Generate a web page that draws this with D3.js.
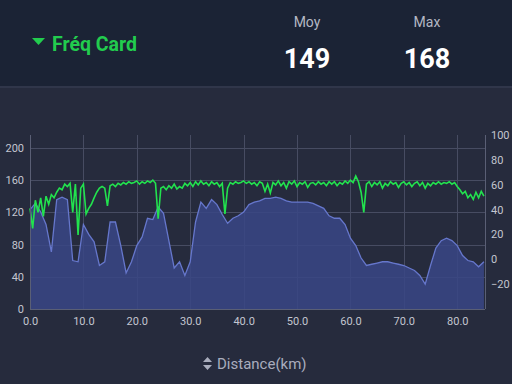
<!DOCTYPE html>
<html>
<head>
<meta charset="utf-8">
<script src="https://cdn.jsdelivr.net/npm/d3@7"></script>
<style>
  html, body { margin:0; padding:0; background:#262b3d; }
  svg { display:block; font-family: Roboto, "Noto Sans", sans-serif; }
  .tick text { fill:#c3c6d0; font-size:11px; }
</style>
</head>
<body>
<svg id="chart"></svg>
<script>
// header numbers
var statLabels = ["Moy", "Max"]
var statValues = [149, 168]

// tick labels
var xTicks = [0, 10, 20, 30, 40, 50, 60, 70, 80]
var hrTicks = [0, 40, 80, 120, 160, 200]
var altTicks = [-20, 0, 20, 40, 60, 80, 100]

// heart rate, one value every 0.5 km
var hrStep = 0.5
var heartRate = [
  125,100,135,120,138,115,140,130,142,138, 145,150,148,155,152,156,120,155,92,150,
  155,118,125,130,138,145,150,152,150,128, 153,155,152,156,154,157,155,158,156,157,
  159,155,158,156,159,157,160,156,112,150, 152,148,153,150,155,149,152,150,156,153,
  157,152,158,154,159,155,157,153,158,155, 157,152,156,118,150,157,155,158,156,157,
  159,156,158,155,157,153,158,156,146,155, 144,157,154,159,153,157,150,158,155,159,
  152,157,155,158,151,156,157,154,158,155, 157,153,158,155,158,153,157,155,159,156,
  160,157,165,158,145,120,155,158,152,157, 154,158,150,156,153,158,155,157,151,156,
  158,154,157,152,156,158,153,157,150,156, 153,157,155,158,155,157,156,158,155,157,
  152,148,143,146,138,142,136,145,138,146, 140
]

// altitude (right axis), one value every km
var altStep = 1
var altitude = [
  40,45,38,28,6,48,50,48,-1,-2, 28,20,14,-5,-2,30,30,11,-11,-2,
  11,18,33,32,42,37,15,-7,-2,-13, -2,30,46,41,48,44,36,29,33,35,
  38,44,46,47,49,49,50,49,47,46, 46,46,46,45,43,41,35,33,33,28,
  17,11,1,-5,-4,-3,-2,-2,-3,-4, -5,-7,-9,-13,-20,-5,9,15,17,15,
  11,3,-1,-2,-6,-2
]

var drawHeader = function(svg)
{
    svg.append("rect")
       .attr("x",0).attr("y",0)
       .attr("width",512).attr("height",86)
       .attr("fill","#1b2335")
    svg.append("rect")
       .attr("x",0).attr("y",86)
       .attr("width",512).attr("height",2)
       .attr("fill","#30364a")

    svg.append("path")
       .attr("d","M32,38 L45,38 L38.5,45 Z")
       .attr("fill","#22cc4e")
    svg.append("text")
       .text("Fréq Card")
       .attr("x",52).attr("y",51)
       .attr("fill","#22cc4e")
       .attr("font-size",19.5)
       .attr("font-weight","bold")

    var cols = [307, 427]
    statLabels.forEach(function(label,i)
    {
        svg.append("text")
           .text(label)
           .attr("x",cols[i]).attr("y",27)
           .attr("text-anchor","middle")
           .attr("fill","#b4b8c4")
           .attr("font-size",14)
        svg.append("text")
           .text(statValues[i])
           .attr("x",cols[i]).attr("y",68)
           .attr("text-anchor","middle")
           .attr("fill","#ffffff")
           .attr("font-size",27)
           .attr("font-weight","bold")
    })
}

var initGraph = function()
{
    var screen = {width:512,height:384}
    var plot = {left:30,right:485,top:135,bottom:309}

    var svg = d3.select("#chart")
                .attr("width",screen.width)
                .attr("height",screen.height)

    svg.append("rect")
       .attr("width",screen.width).attr("height",screen.height)
       .attr("fill","#262b3d")

    drawHeader(svg)

    var xScale = d3.scaleLinear()
        .domain([0,85.2])
        .range([plot.left,plot.right])
    var hrScale = d3.scaleLinear()
        .domain([0,216])
        .range([plot.bottom,plot.top])
    var altScale = d3.scaleLinear()
        .domain([-40,100])
        .range([plot.bottom,plot.top])

    // grid
    var grid = svg.append("g").attr("stroke","#474c62").attr("stroke-width",1)
    grid.selectAll("line.h")
        .data(hrTicks.filter(function(t){return t>0}))
        .enter().append("line")
        .attr("x1",plot.left).attr("x2",plot.right)
        .attr("y1",function(t){return Math.round(hrScale(t))+0.5})
        .attr("y2",function(t){return Math.round(hrScale(t))+0.5})
    grid.selectAll("line.v")
        .data(xTicks.filter(function(t){return t>0}))
        .enter().append("line")
        .attr("y1",plot.top).attr("y2",plot.bottom)
        .attr("x1",function(t){return Math.round(xScale(t))+0.5})
        .attr("x2",function(t){return Math.round(xScale(t))+0.5})

    // altitude area
    var area = d3.area()
        .x(function(d,i){return xScale(i*altStep)})
        .y0(plot.bottom)
        .y1(function(d){return altScale(d)})
    svg.append("path")
       .datum(altitude)
       .attr("d",area)
       .attr("fill","#3a4786")
       .attr("fill-opacity",0.85)
    var altLine = d3.line()
        .x(function(d,i){return xScale(i*altStep)})
        .y(function(d){return altScale(d)})
    svg.append("path")
       .datum(altitude)
       .attr("d",altLine)
       .attr("fill","none")
       .attr("stroke","#6677cc")
       .attr("stroke-width",1.3)

    // heart rate line
    var hrLine = d3.line()
        .x(function(d,i){return xScale(i*hrStep)})
        .y(function(d){return hrScale(d)})
    svg.append("path")
       .datum(heartRate)
       .attr("d",hrLine)
       .attr("fill","none")
       .attr("stroke","#22e24e")
       .attr("stroke-width",1.6)

    // frame lines
    var frame = svg.append("g").attr("stroke","#5a5f75").attr("stroke-width",1)
    frame.append("line").attr("x1",plot.left+0.5).attr("x2",plot.left+0.5)
         .attr("y1",plot.top).attr("y2",plot.bottom)
    frame.append("line").attr("x1",plot.right+0.5).attr("x2",plot.right+0.5)
         .attr("y1",plot.top).attr("y2",plot.bottom)
    frame.append("line").attr("x1",plot.left).attr("x2",plot.right)
         .attr("y1",plot.bottom+0.5).attr("y2",plot.bottom+0.5)

    // axes
    var xAxis = d3.axisBottom(xScale).tickValues(xTicks)
        .tickFormat(d3.format(".1f")).tickSize(0).tickPadding(8)
    svg.append("g")
       .attr("transform","translate(0,"+plot.bottom+")")
       .call(xAxis)
       .call(function(g){g.select(".domain").remove()})

    var yAxis = d3.axisLeft(hrScale).tickValues(hrTicks)
        .tickSize(0).tickPadding(6)
    svg.append("g")
       .attr("transform","translate("+plot.left+",0)")
       .call(yAxis)
       .call(function(g){g.select(".domain").remove()})

    var y2Axis = d3.axisRight(altScale).tickValues(altTicks)
        .tickSize(0).tickPadding(6)
    svg.append("g")
       .attr("transform","translate("+plot.right+",0)")
       .call(y2Axis)
       .call(function(g){g.select(".domain").remove()})

    svg.selectAll(".tick text").attr("font-family","Roboto, sans-serif")

    // x label
    svg.append("path")
       .attr("d","M203,362 L212,362 L207.5,357 Z M203,365 L212,365 L207.5,370 Z")
       .attr("fill","#a9adbd")
    svg.append("text")
       .text("Distance(km)")
       .attr("x",217).attr("y",369)
       .attr("fill","#a9adbd")
       .attr("font-size",15)
}

initGraph()
</script>
</body>
</html>
